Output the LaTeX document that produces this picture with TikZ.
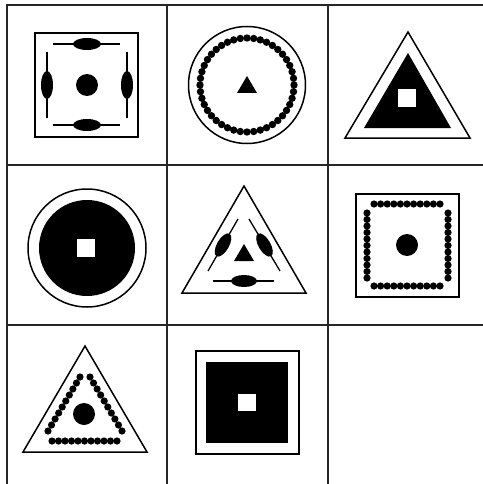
\documentclass[tikz,border=0pt]{standalone}
\usetikzlibrary{calc}

\tikzset{
  gridline/.style={line width=1.6pt, black!85, line cap=rect},
  outline/.style={line width=1.5pt},
  stick/.style={line width=1.3pt},
  hole/.style={fill=white},
}

\begin{document}
\begin{tikzpicture}[x=1pt, y=-1pt]
  \useasboundingbox (0,0) rectangle (482,484);

  % Grid of cells
  \foreach \gx in {7,167,328}
    \draw[gridline] (\gx,5) -- (\gx,484);
  \foreach \gy in {5,165,325}
    \draw[gridline] (7,\gy) -- (482,\gy);

  % Cell 1: square, dot and four sticks
  \draw[outline] (35,33) rectangle (138,137);
  \fill (87,85) circle (11);
  \draw[stick] (53,44) -- (120,44);
  \fill (87,44) ellipse [x radius=14, y radius=6];
  \draw[stick] (53,125) -- (120,125);
  \fill (87,125) ellipse [x radius=14, y radius=6];
  \draw[stick] (47,52) -- (47,118);
  \fill (47,85) ellipse [x radius=6, y radius=14];
  \draw[stick] (127,52) -- (127,118);
  \fill (127,85) ellipse [x radius=6, y radius=14];

  % Cell 2: circle, ring of beads, small triangle
  \draw[outline] (247,85) circle (58.5);
  \foreach \i in {1,...,44}
    \fill (247,85) ++(\i*360/44:47) circle (3.7);
  \fill (247,76) -- (257,93) -- (237,93) -- cycle;

  % Cell 3: triangle, solid triangle, hole
  \draw[outline] (408,32) -- (470,138) -- (345,138) -- cycle;
  \fill (408,53) -- (451,128) -- (364,128) -- cycle;
  \fill[hole] (398,89) rectangle (416,107);

  % Cell 4: circle, solid disc, hole
  \draw[outline] (87,248) circle (59);
  \fill (87,248) circle (48);
  \fill[hole] (77,239) rectangle (95,257);

  % Cell 5: triangle, three sticks, small triangle
  \draw[outline] (244,186) -- (306,293) -- (182,293) -- cycle;
  \fill (244,244) -- (254,261) -- (234,261) -- cycle;
  \draw[stick] (213,281) -- (274,281);
  \fill (244,281) ellipse [x radius=13, y radius=6];
  \draw[stick] (238,219) -- (208,271);
  \fill[rotate around={60:(223,245)}] (223,245) ellipse [x radius=13, y radius=6];
  \draw[stick] (249,219) -- (280,271);
  \fill[rotate around={-60:(264.5,245)}] (264.5,245) ellipse [x radius=13, y radius=6];

  % Cell 6: square, frame of beads, dot
  \draw[outline] (356,194) rectangle (459,297);
  \foreach \t in {0,...,10} {
    \fill ($(374,204)!\t/10!(440,204)$) circle (3.6);
    \fill ($(374,286)!\t/10!(440,286)$) circle (3.6);
    \fill ($(367,213)!\t/10!(367,278)$) circle (3.6);
    \fill ($(448,213)!\t/10!(448,278)$) circle (3.6);
  }
  \fill (407,245) circle (11);

  % Cell 7: triangle, triangle of beads, dot
  \draw[outline] (85,346) -- (147,452) -- (23,452) -- cycle;
  \foreach \t in {0,...,10}
    \fill ($(52,441)!\t/10!(117,441)$) circle (3.6);
  \foreach \t in {0,...,9} {
    \fill ($(80,377)!\t/9!(48,431)$) circle (3.6);
    \fill ($(90,377)!\t/9!(122,431)$) circle (3.6);
  }
  \fill (84,414) circle (11);

  % Cell 8: square, solid square, hole
  \draw[outline] (196,351) rectangle (299,454);
  \fill (206,362) rectangle (288,443);
  \fill[hole] (238,394) rectangle (256,411);
\end{tikzpicture}
\end{document}
